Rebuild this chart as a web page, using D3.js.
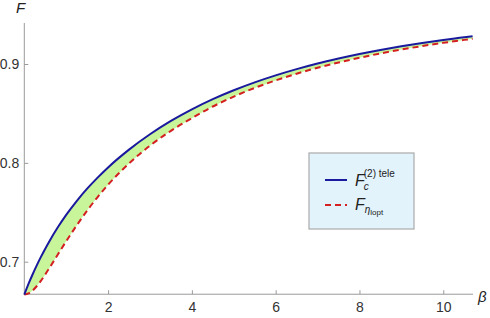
<!DOCTYPE html>
<html>
<head>
<meta charset="utf-8">
<script src="https://cdn.jsdelivr.net/npm/d3@7"></script>
<style>
html,body{margin:0;padding:0;background:#fff;}
svg{display:block;font-family:"Liberation Sans",Arial,sans-serif;}
</style>
</head>
<body>
<svg id="chart" width="490" height="318"></svg>
<script>
const betaValues = [0, 0.1, 0.2, 0.3, 0.4, 0.5, 0.6, 0.8, 1.0, 1.25, 1.5, 1.75, 2.0, 2.5, 3.0, 3.5, 4.0, 4.5, 5.0, 5.5, 6.0, 6.5, 7.0, 7.5, 8.0, 8.5, 9.0, 9.5, 10.0, 10.5, 10.7];
const fTele = [0.6667, 0.6775, 0.6873, 0.6965, 0.7051, 0.7132, 0.7208, 0.7348, 0.7474, 0.7614, 0.7739, 0.7851, 0.7954, 0.8134, 0.8289, 0.8424, 0.8541, 0.8644, 0.8734, 0.8814, 0.8885, 0.8948, 0.9005, 0.9055, 0.9101, 0.9142, 0.9179, 0.9212, 0.9243, 0.9271, 0.9281];
const fOpt = [0.6667, 0.6679, 0.6709, 0.6754, 0.6809, 0.6871, 0.6937, 0.7073, 0.7207, 0.7367, 0.7517, 0.7654, 0.7779, 0.7994, 0.8174, 0.8324, 0.8452, 0.8570, 0.8670, 0.8758, 0.8834, 0.8902, 0.8962, 0.9015, 0.9063, 0.9107, 0.9146, 0.9182, 0.9214, 0.9244, 0.9255];
const xTicks = [2, 4, 6, 8, 10];
const yTicks = [0.7, 0.8, 0.9];
const xTickLabels = ["2", "4", "6", "8", "10"];
const yTickLabels = ["0.7", "0.8", "0.9"];

const svg = d3.select("#chart");
const x = d3.scaleLinear().domain([0, 10.71]).range([24.3, 473]);
const y = d3.scaleLinear().domain([0.7, 0.9]).range([261.7, 64]);
const yBottom = 0.6671, yTop = 0.9415;

const data = betaValues.map((b, i) => ({b, t: fTele[i], o: fOpt[i]}));

// fill between
svg.append("path")
  .datum(data)
  .attr("fill", "#c9f59a")
  .attr("d", d3.area().x(d => x(d.b)).y0(d => y(d.o)).y1(d => y(d.t)).curve(d3.curveMonotoneX));

// axes
const axisColor = "#9a9a9a";
const xAxis = d3.axisBottom(x).tickValues(xTicks).tickFormat((d, i) => xTickLabels[i]).tickSize(-4).tickPadding(8);
const gx = svg.append("g").attr("transform", `translate(0,${y(yBottom)})`).call(xAxis);
gx.select(".domain").attr("d", `M${x(0)},0H${x(10.71)}`).attr("stroke", axisColor);
gx.selectAll(".tick line").attr("stroke", axisColor);
gx.selectAll(".tick text").attr("fill", "#333").style("font-size", "14px");

const yAxis = d3.axisLeft(y).tickValues(yTicks).tickFormat((d, i) => yTickLabels[i]).tickSize(-4).tickPadding(5);
const gy = svg.append("g").attr("transform", `translate(${x(0)},0)`).call(yAxis);
gy.select(".domain").attr("d", `M0,${y(yBottom)}V${y(yTop)}`).attr("stroke", axisColor);
gy.selectAll(".tick line").attr("stroke", axisColor);
gy.selectAll(".tick text").attr("fill", "#333").style("font-size", "14px");

// axis labels
svg.append("text").attr("x", 16).attr("y", 13).attr("font-style", "italic").attr("font-size", 15).attr("fill", "#222").text("F");
svg.append("text").attr("x", 478).attr("y", 302).attr("font-style", "italic").attr("font-size", 15).attr("fill", "#222").text("β");

// lines
const line = key => d3.line().x(d => x(d.b)).y(d => y(d[key])).curve(d3.curveMonotoneX);
svg.append("path").datum(data).attr("fill", "none").attr("stroke", "#d42020").attr("stroke-width", 2)
  .attr("stroke-dasharray", "6,4").attr("d", line("o"));
svg.append("path").datum(data).attr("fill", "none").attr("stroke", "#1a1a9e").attr("stroke-width", 2)
  .attr("d", line("t"));

// legend
const lg = svg.append("g");
lg.append("rect").attr("x", 309).attr("y", 153).attr("width", 105).attr("height", 76)
  .attr("fill", "#e3f3fb").attr("stroke", "#aaaaaa").attr("stroke-width", 1.2);
lg.append("line").attr("x1", 325).attr("x2", 347).attr("y1", 180).attr("y2", 180).attr("stroke", "#1a1a9e").attr("stroke-width", 2);
lg.append("line").attr("x1", 325).attr("x2", 347).attr("y1", 205).attr("y2", 205).attr("stroke", "#d42020").attr("stroke-width", 2).attr("stroke-dasharray", "6,4");
const t1 = lg.append("text").attr("x", 355).attr("y", 186).attr("fill", "#222").attr("font-size", 16);
t1.append("tspan").attr("font-style", "italic").text("F");
t1.append("tspan").attr("font-style", "italic").attr("font-size", 10).attr("dx", -1).attr("dy", 4).text("c");
t1.append("tspan").attr("font-size", 10).attr("dx", -5).attr("dy", -13).text("(2) tele");
const t2 = lg.append("text").attr("x", 355).attr("y", 210).attr("fill", "#222").attr("font-size", 16);
t2.append("tspan").attr("font-style", "italic").text("F");
t2.append("tspan").attr("font-style", "italic").attr("font-size", 10).attr("dx", 0).attr("dy", 3).text("η");
t2.append("tspan").attr("font-size", 8).attr("dy", 2).text("lopt");
</script>
</body>
</html>
